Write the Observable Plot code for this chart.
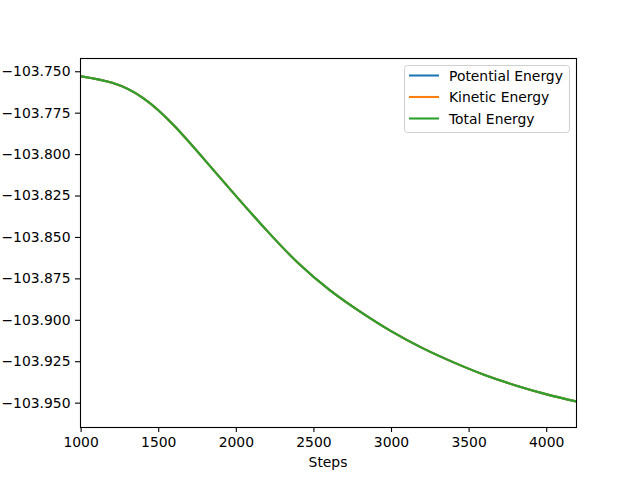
<!DOCTYPE html>
<html><head><meta charset="utf-8">
<script src="https://cdn.jsdelivr.net/npm/d3@7"></script>
<script src="https://cdn.jsdelivr.net/npm/@observablehq/plot@0.6"></script>
<style>
body{margin:0;background:#fff;}
#chart svg{font-family:"DejaVu Sans",sans-serif;}
</style>
</head><body><div id="chart"></div>
<script>
const steps = [1000, 1200, 1400, 1600, 1800, 2000, 2200, 2400, 2600, 2800, 3000, 3200, 3400, 3600, 3800, 4000, 4190];
const totalEnergy = [-103.7528, -103.7567, -103.7659, -103.7826, -103.8036, -103.8252, -103.8462, -103.8656, -103.8816, -103.8949, -103.9067, -103.9168, -103.9254, -103.9330, -103.9393, -103.9447, -103.9490];
const potentialEnergy = [-103.7528, -103.7567, -103.7659, -103.7826, -103.8036, -103.8252, -103.8462, -103.8656, -103.8816, -103.8949, -103.9067, -103.9168, -103.9254, -103.9330, -103.9393, -103.9447, -103.9490];
const kineticEnergy = [-103.7528, -103.7567, -103.7659, -103.7826, -103.8036, -103.8252, -103.8462, -103.8656, -103.8816, -103.8949, -103.9067, -103.9168, -103.9254, -103.9330, -103.9393, -103.9447, -103.9490];
const seriesNames = ["Potential Energy", "Kinetic Energy", "Total Energy"];
const seriesColors = ["#1f77b4", "#ff7f0e", "#2ca02c"];
const xTicks = [1000, 1500, 2000, 2500, 3000, 3500, 4000];
const yTicks = [-103.750, -103.775, -103.800, -103.825, -103.850, -103.875, -103.900, -103.925, -103.950];
const xLabel = "Steps";

const seriesValues = [potentialEnergy, kineticEnergy, totalEnergy];
const data = seriesValues.flatMap((vals, i) =>
  vals.map((v, j) => ({step: steps[j], energy: v, series: seriesNames[i]})));

const fmtY = d3.format(".3f");
const chart = Plot.plot({
  width: 640,
  height: 480,
  marginLeft: 80,
  marginRight: 64,
  marginTop: 58,
  marginBottom: 53,
  style: {fontFamily: "DejaVu Sans, sans-serif", fontSize: "13.9px", color: "#000", background: "#fff"},
  x: {domain: [996, 4192]},
  y: {domain: [-103.9647, -103.742]},
  color: {domain: seriesNames, range: seriesColors},
  marks: [
    Plot.line(data, {x: "step", y: "energy", stroke: "series", z: "series", strokeWidth: 2.1, curve: "natural", clip: true}),
    Plot.axisX({ticks: xTicks, tickFormat: d => String(d), tickSize: 5, tickPadding: 5, label: null, stroke: "#000", strokeWidth: 1.1}),
    Plot.axisY({ticks: yTicks, tickFormat: d => fmtY(d), tickSize: 5, tickPadding: 5, label: null, stroke: "#000", strokeWidth: 1.1}),
    Plot.frame({stroke: "#000", strokeWidth: 1.1})
  ]
});
document.getElementById("chart").appendChild(chart);

const svg = d3.select(chart);
svg.append("text")
  .attr("x", 328).attr("y", 467)
  .attr("text-anchor", "middle")
  .attr("font-size", "13.9px").attr("fill", "#000")
  .text(xLabel);

const lg = svg.append("g").attr("text-anchor", "start");
lg.append("rect")
  .attr("x", 404.5).attr("y", 65.5).attr("width", 165).attr("height", 67)
  .attr("rx", 3).attr("fill", "#fff").attr("fill-opacity", 0.8)
  .attr("stroke", "#d0d0d0").attr("stroke-width", 1);
seriesNames.forEach((name, i) => {
  const yy = 75.5 + i * 21.5;
  lg.append("line").attr("x1", 409).attr("x2", 439).attr("y1", yy).attr("y2", yy)
    .attr("stroke", seriesColors[i]).attr("stroke-width", 2.1);
  lg.append("text").attr("x", 449).attr("y", yy).attr("dy", "0.36em")
    .attr("text-anchor", "start")
    .attr("font-size", "13.9px").attr("fill", "#000").text(name);
});
</script>
</body></html>
